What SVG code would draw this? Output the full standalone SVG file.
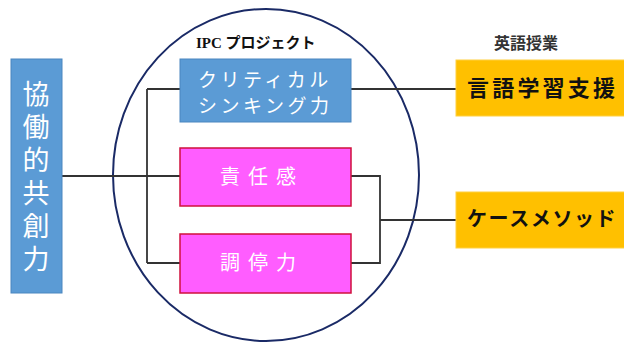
<svg xmlns="http://www.w3.org/2000/svg" width="624" height="342" viewBox="0 0 624 342">
<style>
.jp{font-family:"Noto Sans CJK JP","Noto Sans CJK SC",sans-serif;}
.w{fill:#ffffff;}
.k{fill:#111111;}
.blue{fill:#5b9bd5;stroke:#4a86bf;stroke-width:1;}
.pink{fill:#ff5dff;stroke:#d0103c;stroke-width:1.5;}
.yel{fill:#ffc000;stroke:#ffd040;stroke-width:1;}
.con{fill:none;stroke:#333333;stroke-width:1.8;}
</style>
<rect width="624" height="342" fill="#ffffff"/>
<g id="ipc-ellipse">
<ellipse cx="266" cy="175" rx="153" ry="166" fill="none" stroke="#1a2a66" stroke-width="2"/>
<text x="196" y="48" font-size="15" font-weight="bold" class="k" font-family="'Liberation Serif','Noto Sans CJK JP',serif">IPC プロジェクト</text>
</g>
<g id="eigo-label">
<text x="526" y="49" font-size="16" text-anchor="middle" class="jp" font-weight="bold" fill="#333">英語授業</text>
</g>
<g id="connectors">
<path class="con" d="M62 176 H180 M147 89 V263 M147 89 H180 M147 263 H180"/>
<path class="con" d="M351 89 H456"/>
<path class="con" d="M351 176 H380 V263 H351 M380 220 H456"/>
</g>
<g id="kyodo">
<rect class="blue" x="11" y="59" width="51" height="234"/>
<text class="jp w" font-size="27" x="36" y="80" writing-mode="tb" style="writing-mode:vertical-rl" letter-spacing="6">協働的共創力</text>
</g>
<g id="critical">
<rect class="blue" x="180" y="59" width="171" height="63"/>
<text class="jp w" font-size="19" letter-spacing="3.5" x="198" y="87">クリティカル</text>
<text class="jp w" font-size="19" letter-spacing="3.5" x="198" y="113">シンキング力</text>
</g>
<g id="sekinin">
<rect class="pink" x="180" y="148" width="171" height="58"/>
<text class="jp w" font-size="20" letter-spacing="8" x="220" y="184">責任感</text>
</g>
<g id="chotei">
<rect class="pink" x="180" y="234" width="171" height="59"/>
<text class="jp w" font-size="20" letter-spacing="8" x="220" y="270">調停力</text>
</g>
<g id="gengo">
<rect class="yel" x="456" y="60" width="170" height="56"/>
<text class="jp k" font-size="22" font-weight="bold" letter-spacing="3.2" x="467" y="96">言語学習支援</text>
</g>
<g id="case">
<rect class="yel" x="456" y="192" width="170" height="56"/>
<text class="jp k" font-size="20" font-weight="bold" letter-spacing="1.6" x="467" y="226">ケースメソッド</text>
</g>
</svg>
